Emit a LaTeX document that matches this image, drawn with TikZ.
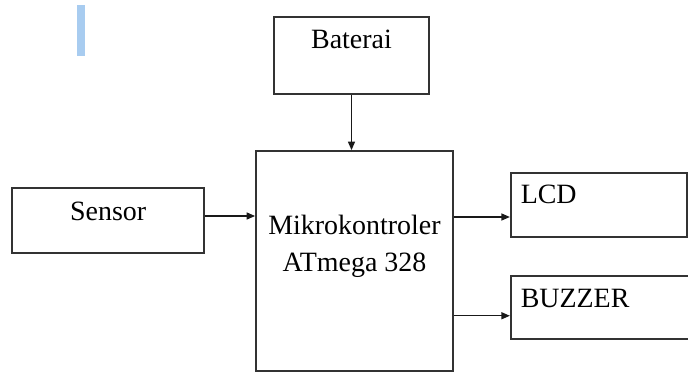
\documentclass[tikz,border=0pt]{standalone}
\usepackage{fontspec}
\setmainfont{Liberation Serif}
\usepackage{xcolor}
\usepackage{tikz}
\usetikzlibrary{arrows.meta,positioning}
\definecolor{barblue}{RGB}{168,204,240}
\begin{document}
\begin{tikzpicture}[
  node distance=1cm and 1cm,
  box/.style={draw=black!80,line width=1pt,inner sep=0pt,align=center,
              font=\fontsize{15.9}{21.6}\selectfont},
  leftbox/.style={box,inner xsep=0.2cm,text width=3.12cm,align=left},
  flow/.style={-{Triangle[length=0.17cm,width=0.14cm]},line width=0.8pt,black!90}
]
\useasboundingbox (0,0) rectangle (13.76,7.44);
\fill[barblue] (1.54,6.32) rectangle (1.70,7.34);
\node[box,minimum width=3.94cm,text height=1.66cm,text depth=2.74cm] (mcu) at (7.09,2.22)
  {\begin{tabular}[t]{@{}c@{}}Mikrokontroler\\ATmega 328\end{tabular}};
\node[box,above=1.1cm of mcu,xshift=-0.06cm,minimum width=3.1cm,
      text height=0.62cm,text depth=0.92cm] (bat) {Baterai};
\node[box,left=1cm of mcu,yshift=0.81cm,minimum width=3.84cm,
      text height=0.64cm,text depth=0.66cm] (sensor) {Sensor};
\node[leftbox,right=1.12cm of mcu,yshift=1.12cm,
      text height=0.6cm,text depth=0.68cm] (lcd) {LCD};
\node[leftbox,below right=0.74cm and 0cm of lcd.south west,text width=3.32cm,
      text height=0.64cm,text depth=0.62cm] (buzzer) {BUZZER};
\coordinate (sensor-out) at ([yshift=0.09cm]sensor.east);
\coordinate (lcd-in) at ([yshift=-0.24cm]lcd.west);
\coordinate (buzzer-in) at ([yshift=-0.17cm]buzzer.west);
\draw[flow] (bat.south) -- (bat.south |- mcu.north);
\draw[flow] (sensor-out) -- (sensor-out -| mcu.west);
\draw[flow] (mcu.east |- lcd-in) -- (lcd-in);
\draw[flow] (mcu.east |- buzzer-in) -- (buzzer-in);
\end{tikzpicture}
\end{document}
